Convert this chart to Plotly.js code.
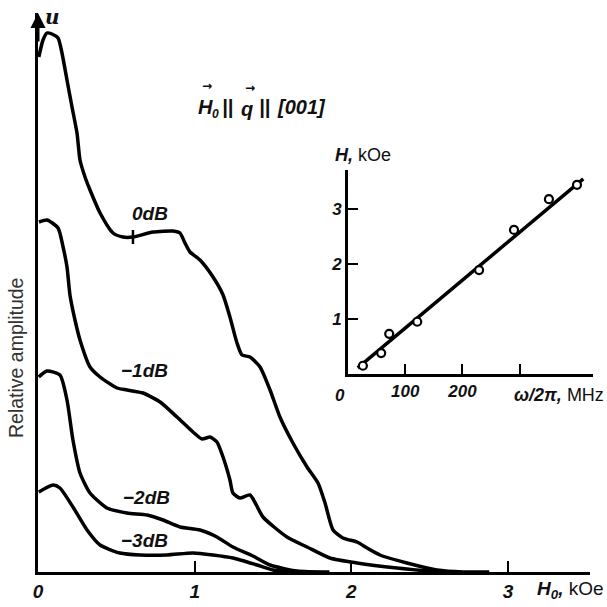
<!DOCTYPE html>
<html>
<head>
<meta charset="utf-8">
<script src="https://cdn.plot.ly/plotly-3.0.1.min.js"></script>
<style>html,body{margin:0;padding:0;background:#fff;}#chart{width:607px;height:607px;}</style>
</head>
<body>
<div id="chart"></div>
<script>
// Main chart: relative amplitude u vs H0 (kOe)
const x0dB = [0.005,0.032,0.057,0.089,0.128,0.153,0.185,0.217,0.249,0.268,0.300,0.332,0.396,0.479,0.542,0.606,0.734,0.862,0.906,0.938,0.970,1.034,1.117,1.181,1.225,1.270,1.302,1.353,1.417,1.481,1.544,1.627,1.717,1.787,1.832,1.883,1.946,2.036,2.100,2.183,2.355,2.546,2.712,2.88];
const y0dB = [5.15,5.32,5.39,5.38,5.34,5.19,4.92,4.65,4.39,4.12,3.95,3.82,3.59,3.39,3.35,3.35,3.40,3.41,3.39,3.29,3.20,3.12,2.95,2.77,2.55,2.29,2.17,2.15,2.05,1.82,1.55,1.29,1.05,0.89,0.69,0.42,0.34,0.30,0.24,0.17,0.09,0.02,0.0,0.0];

const xm1dB = [0.006,0.057,0.128,0.160,0.185,0.204,0.236,0.268,0.332,0.396,0.504,0.568,0.670,0.779,0.887,0.989,1.047,1.098,1.142,1.181,1.225,1.244,1.289,1.353,1.436,1.589,1.717,1.863,2.036,2.291,2.50,2.69];
const ym1dB = [3.50,3.52,3.44,3.25,3.05,2.77,2.52,2.32,2.05,1.95,1.84,1.82,1.79,1.70,1.55,1.40,1.33,1.35,1.30,1.15,0.92,0.79,0.74,0.77,0.55,0.35,0.25,0.14,0.09,0.04,0.01,0.0];

const xm2dB = [0.005,0.057,0.140,0.185,0.223,0.268,0.332,0.440,0.568,0.696,0.798,0.906,1.034,1.142,1.244,1.372,1.481,1.653,1.86];
const ym2dB = [1.95,2.01,1.97,1.72,1.32,0.99,0.79,0.64,0.59,0.57,0.52,0.45,0.42,0.35,0.25,0.16,0.07,0.01,0.0];

const xm3dB = [0.005,0.096,0.140,0.223,0.313,0.396,0.523,0.651,0.823,0.989,1.117,1.244,1.398,1.50,1.67];
const ym3dB = [0.80,0.87,0.84,0.65,0.42,0.27,0.19,0.17,0.17,0.19,0.17,0.14,0.07,0.02,0.0];

const errMarkX = [0.606];
const errMarkY = [3.35];

const curveLabels = ['0dB', '\u22121dB', '\u22122dB', '\u22123dB'];

// Inset: resonance field H (kOe) vs frequency ω/2π (MHz)
const insetFreq = [26, 58, 72, 121, 229, 290, 351, 400];
const insetH    = [0.15, 0.38, 0.73, 0.95, 1.89, 2.62, 3.18, 3.44];
const fitFreq = [17, 411];
const fitH    = [0.11, 3.55];

const mainTicks = [0, 1, 2, 3];
const mainTickText = ['0', '1', '2', '3'];
const insetXTicks = [0, 100, 200, 300];
const insetXTickText = [' ', '100', '200', ' '];
const insetYTicks = [1, 2, 3];
const insetYTickText = ['1', '2', '3'];

const W = 607, H = 607;
const px = v => v / W;
const py = v => 1 - v / H;

const lbl = {family: '"Liberation Sans Narrow", "Liberation Sans", Arial, sans-serif', size: 19, color: '#111', weight: 'bold', style: 'italic'};
const lblSmall = Object.assign({}, lbl, {size: 17});

const lineStyle = {color: '#000', width: 3.5, shape: 'spline', smoothing: 0.6};

const traces = [
  {x: x0dB, y: y0dB, mode: 'lines', line: lineStyle, xaxis: 'x', yaxis: 'y', hoverinfo: 'skip'},
  {x: xm1dB, y: ym1dB, mode: 'lines', line: lineStyle, xaxis: 'x', yaxis: 'y', hoverinfo: 'skip'},
  {x: xm2dB, y: ym2dB, mode: 'lines', line: lineStyle, xaxis: 'x', yaxis: 'y', hoverinfo: 'skip'},
  {x: xm3dB, y: ym3dB, mode: 'lines', line: lineStyle, xaxis: 'x', yaxis: 'y', hoverinfo: 'skip'},
  {x: errMarkX, y: errMarkY, mode: 'markers', marker: {symbol: 'line-ns', size: 10, line: {color: '#000', width: 2.5}}, xaxis: 'x', yaxis: 'y', hoverinfo: 'skip'},
  {x: fitFreq, y: fitH, mode: 'lines', line: {color: '#000', width: 3.5}, xaxis: 'x2', yaxis: 'y2', hoverinfo: 'skip'},
  {x: insetFreq, y: insetH, mode: 'markers', marker: {symbol: 'circle', size: 8, color: '#fff', line: {color: '#000', width: 2.2}}, xaxis: 'x2', yaxis: 'y2', cliponaxis: false, hoverinfo: 'skip'}
];

function ann(x, y, text, font, extra) {
  return Object.assign({xref: 'paper', yref: 'paper', x: px(x), y: py(y), text: text, showarrow: false,
    xanchor: 'center', yanchor: 'middle', font: font}, extra || {});
}

const arrowFont = {family: '"DejaVu Sans", sans-serif', size: 12, color: '#111', weight: 'bold'};

const layout = {
  width: W, height: H,
  margin: {l: 0, r: 0, t: 0, b: 0},
  paper_bgcolor: '#fff', plot_bgcolor: 'rgba(0,0,0,0)',
  showlegend: false,
  xaxis: {
    domain: [px(38), px(590)], range: [0, 3.523],
    showline: true, linecolor: '#000', linewidth: 3,
    showgrid: false, zeroline: false,
    tickvals: mainTicks, ticktext: mainTickText,
    ticks: 'inside', ticklen: 11, tickwidth: 2, tickcolor: '#000',
    tickfont: lbl, anchor: 'y'
  },
  yaxis: {
    domain: [1 - 572 / H, 1 - 13 / H], range: [0, 5.59],
    showline: true, linecolor: '#000', linewidth: 3,
    showgrid: false, zeroline: false, showticklabels: false, ticks: '', anchor: 'x'
  },
  xaxis2: {
    domain: [px(348), px(593)], range: [0, 428],
    showline: true, linecolor: '#000', linewidth: 3,
    showgrid: false, zeroline: false,
    tickvals: insetXTicks, ticktext: insetXTickText,
    ticks: 'inside', ticklen: 10, tickwidth: 2, tickcolor: '#000',
    tickfont: lblSmall, anchor: 'y2'
  },
  yaxis2: {
    domain: [1 - 374 / H, 1 - 170 / H], range: [0, 3.71],
    showline: true, linecolor: '#000', linewidth: 3,
    showgrid: false, zeroline: false,
    tickvals: insetYTicks, ticktext: insetYTickText,
    ticks: 'inside', ticklen: 10, tickwidth: 2, tickcolor: '#000',
    tickfont: lblSmall, anchor: 'x2'
  },
  annotations: [
    // y-axis arrow
    {xref: 'x', yref: 'y', x: 0, y: 5.59, ax: 0, ay: 30, axref: 'pixel', ayref: 'pixel', text: '', showarrow: true, arrowhead: 2, arrowsize: 1, arrowwidth: 3, arrowcolor: '#000'},
    ann(52, 17, 'u', Object.assign({}, lbl, {size: 20, family: '"DejaVu Serif", serif'})),
    // H0 || q || [001]
    ann(205, 107, 'H', Object.assign({}, lbl, {size: 20})),
    ann(215, 114, '0', Object.assign({}, lbl, {size: 12})),
    ann(227, 107, '||', Object.assign({}, lbl, {size: 20})),
    ann(247, 109, 'q', Object.assign({}, lbl, {size: 20})),
    ann(264, 107, '||', Object.assign({}, lbl, {size: 20})),
    ann(301, 107, '[001]', Object.assign({}, lbl, {size: 20})),
    ann(207, 86, '\u2192', arrowFont),
    ann(250, 88, '\u2192', arrowFont),
    ann(150, 213, curveLabels[0], lbl),
    ann(144, 370, curveLabels[1], lbl),
    ann(146, 497, curveLabels[2], lbl),
    ann(144, 540, curveLabels[3], lbl),
    ann(16, 358, 'Relative amplitude', {family: '"Liberation Sans", Arial, sans-serif', size: 19.5, color: '#333'}, {textangle: -90}),
    ann(606, 590, '<b><i>H</i><sub>0</sub>,</b> <span style="font-weight:normal;font-style:normal">kOe</span>', lbl, {xanchor: 'right'}),
    ann(333, 155, '<b><i>H,</i></b> <span style="font-weight:normal;font-style:normal">kOe</span>', Object.assign({}, lbl, {size: 18}), {xanchor: 'left'}),
    ann(340, 395, '0', lblSmall),
    ann(606, 395, '<b><i>\u03C9/2\u03C0,</i></b> <span style="font-weight:normal;font-style:normal">MHz</span>', Object.assign({}, lbl, {size: 18}), {xanchor: 'right'})
  ]
};

Plotly.newPlot('chart', traces, layout, {staticPlot: true, displayModeBar: false});
</script>
</body>
</html>
